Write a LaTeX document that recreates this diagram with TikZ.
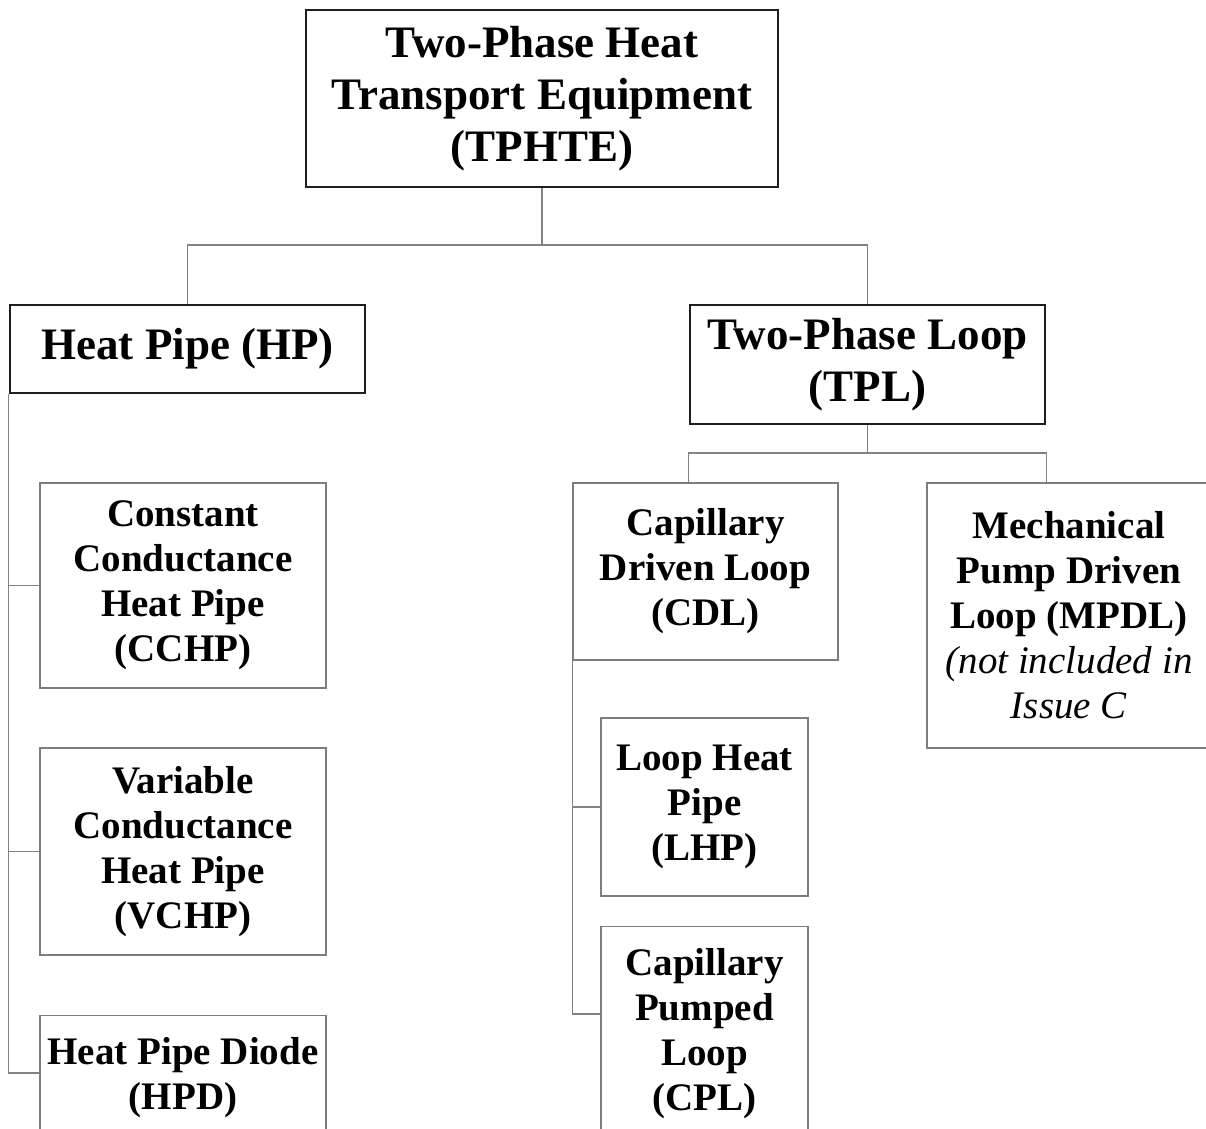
\documentclass[tikz,border=0pt]{standalone}
\usepackage{fontspec}
\setmainfont{Liberation Serif}
\usetikzlibrary{calc}

\tikzset{every picture/.style={line width=0.75pt}}
\tikzset{
  mainbox/.style={draw={rgb, 255:red, 30; green, 30; blue, 30 }, line width=1.3pt, align=center, inner sep=0pt, font=\bfseries\fontsize{22.5}{26}\selectfont},
  subbox/.style={draw={rgb, 255:red, 125; green, 125; blue, 125 }, line width=0.7pt, align=center, inner sep=0pt, font=\bfseries\fontsize{19.5}{22.5}\selectfont},
  cutbox/.style={subbox, anchor=north, inner ysep=10.8pt, text depth=40pt},
  link/.style={draw={rgb, 255:red, 130; green, 130; blue, 130 }, line width=0.7pt},
}

\begin{document}
\begin{tikzpicture}[x=0.5pt,y=0.5pt,yscale=-1,xscale=1]
\useasboundingbox (0,0) rectangle (1206,1129);

% Top level
\node [mainbox, minimum width=236pt, minimum height=88.5pt] (tphte) at (542,98.5) {Two-Phase Heat\\Transport Equipment\\(TPHTE)};
% Second level
\node [mainbox, minimum width=177.5pt, minimum height=44pt] (hp) at (187.5,349) {Heat Pipe (HP)};
\node [mainbox, minimum width=177.5pt, minimum height=59.5pt] (tpl) at (867.5,364.5) {Two-Phase Loop\\(TPL)};
% Heat pipe types
\node [subbox, minimum width=143pt, minimum height=102.5pt] (cchp) at (183,585.5) {Constant\\Conductance\\Heat Pipe\\(CCHP)};
\node [subbox, minimum width=143pt, minimum height=103.5pt] (vchp) at (183,851.5) {Variable\\Conductance\\Heat Pipe\\(VCHP)};
\node [cutbox, minimum width=143pt] (hpd) at (183,1015) {Heat Pipe Diode\\(HPD)};
% Loop types
\node [subbox, minimum width=132.5pt, minimum height=88.5pt] (cdl) at (705.5,571.5) {Capillary\\Driven Loop\\(CDL)};
\node [subbox, minimum width=142pt, minimum height=132.5pt] (mpdl) at (1069,615.5) {Mechanical\\Pump Driven\\Loop (MPDL)\\\textit{\mdseries(not included in}\\\textit{\mdseries Issue C}};
\node [subbox, minimum width=103.5pt, minimum height=89pt] (lhp) at (704.5,807) {Loop Heat\\Pipe\\(LHP)};
\node [cutbox, minimum width=103.5pt] (cpl) at (704.5,926) {Capillary\\Pumped\\Loop\\(CPL)};

% Connectors
\coordinate (split) at (542,245);
\coordinate (tsplit) at (867.5,453);
\draw [link] (tphte) -- (split);
\draw [link] (hp.north) |- (split) -| (tpl.north);
\draw [link] (tpl) -- (tsplit);
\draw [link] (tpl.west |- cdl.north) |- (tsplit) -| (tpl.east |- mpdl.north);
\draw [link] (hp.south west) |- (cchp.west);
\draw [link] (hp.south west) |- (vchp.west);
\draw [link] (hp.south west) |- ($(hpd.north west)+(0,58)$);
\draw [link] (cdl.south west) |- (lhp.west);
\draw [link] (cdl.south west) |- ($(cpl.north west)+(0,88)$);
\end{tikzpicture}
\end{document}
